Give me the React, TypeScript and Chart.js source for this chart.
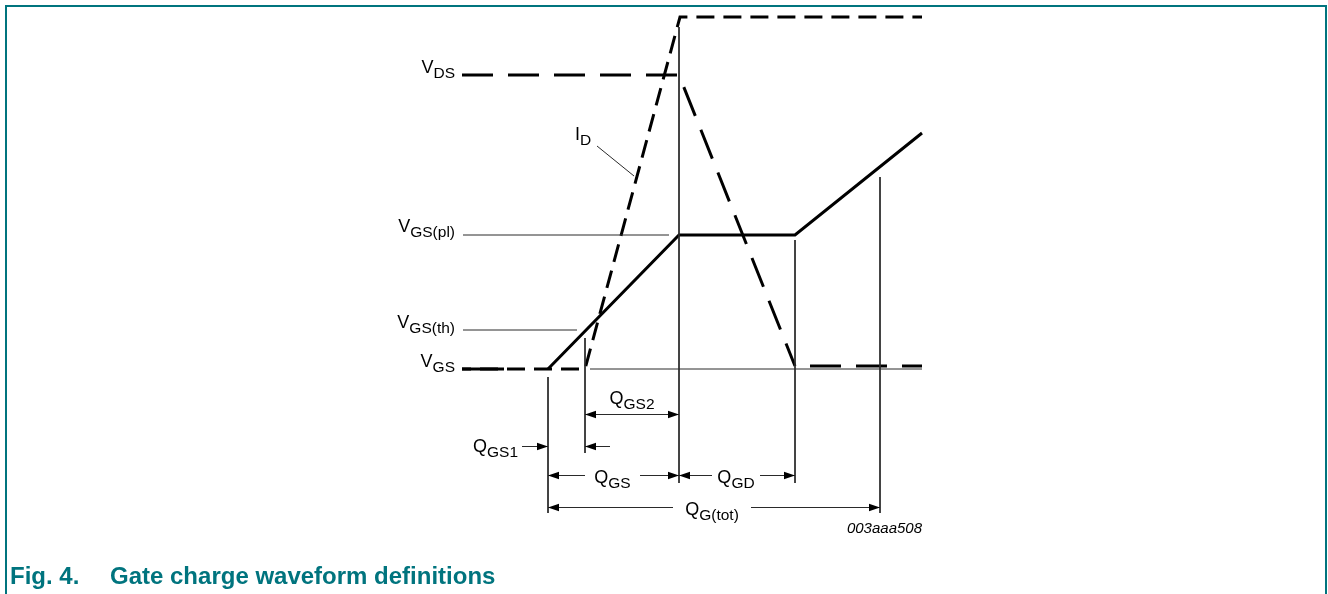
import { useEffect, useRef } from 'react';
import { Chart, registerables } from 'chart.js';

Chart.register(...registerables);

// ---- Data (charge on x in arbitrary charge units, signal level on y in arbitrary units) ----
// Gate-source voltage waveform (null = pen lifted)
const vgsCharge = [-8.6, -4.4, -2.0, 0, 13.1, 24.7, 37.4];
const vgsLevel: (number | null)[] = [0, 0, null, 0, 13.4, 13.4, 23.6];

// Drain current waveform
const idCharge = [-8.6, 3.7, 13.2, 37.4];
const idLevel = [0, 0, 35.2, 35.2];

// Drain-source voltage waveform
const vdsCharge = [-8.6, 13.1, 24.7, 37.4];
const vdsLevel = [29.4, 29.4, 0.3, 0.3];

// Thin guide lines: [charge1, level1, charge2, level2]
const guideLines = [
  [-8.5, 13.4, 12.1, 13.4], // V_GS(pl) reference
  [-8.5, 3.9, 2.9, 3.9], // V_GS(th) reference
  [4.2, 0, 37.4, 0], // baseline
  [13.1, 34.2, 13.1, -11.4], // end of Q_GS
  [0, -0.8, 0, -14.4], // start of Q_GS
  [3.7, 3.1, 3.7, -8.4], // threshold point
  [24.7, 12.9, 24.7, -11.4], // end of Q_GD
  [33.2, 19.2, 33.2, -14.4], // Q_G(tot)
  [4.9, 22.3, 8.6, 19.3], // I_D leader
];

// Dimension arrows: [fromCharge, toCharge, level, headAtFrom, headAtTo, gapFrom, gapTo]
const dimensionArrows: (number | null)[][] = [
  [3.7, 13.1, -4.5, 1, 1, null, null], // Q_GS2
  [-2.6, 0, -7.7, 0, 1, null, null], // Q_GS1 (right pointing)
  [6.2, 3.7, -7.7, 0, 1, null, null], // Q_GS1 (left pointing)
  [0, 13.1, -10.6, 1, 1, 3.7, 9.2], // Q_GS
  [13.1, 24.7, -10.6, 1, 1, 16.4, 21.2], // Q_GD
  [0, 33.2, -13.8, 1, 1, 12.5, 20.3], // Q_G(tot)
];

// Labels (main text + subscript)
const labelMain = ['V', 'V', 'V', 'V', 'I', 'Q', 'Q', 'Q', 'Q', 'Q'];
const labelSub = ['DS', 'GS(pl)', 'GS(th)', 'GS', 'D', 'GS2', 'GS1', 'GS', 'GD', 'G(tot)'];
const labelCharge = [-9.3, -9.3, -9.3, -9.3, 2.7, 8.4, -3.0, 6.45, 18.8, 16.4];
const labelLevel = [29.6, 13.7, 4.1, 0.2, 22.9, -3.5, -8.3, -11.4, -11.4, -14.6];
const labelAlign = ['right', 'right', 'right', 'right', 'left', 'center', 'right', 'center', 'center', 'center'];

const figureCode = '003aaa508';
const figureCodeCharge = 37.4;
const figureCodeLevel = -16.4;

const captionNumber = 'Fig. 4.';
const captionTitle = 'Gate charge waveform definitions';

// ---- Styling ----
const INK = '#000000';
const THIN = '#2a2a2a';
const TEAL = '#00747e';
const FONT_FAMILY = "'Liberation Sans', Arial, Helvetica, sans-serif";
const MAIN_FONT = `18px ${FONT_FAMILY}`;
const SUB_FONT = `15.5px ${FONT_FAMILY}`;
const SUB_DROP = 5;

const toPoints = (xs: number[], ys: (number | null)[]) => xs.map((q, i) => ({ x: q, y: ys[i] }));

const annotationPlugin = {
  id: 'gateChargeAnnotations',
  afterDatasetsDraw(chart: any) {
    const { ctx } = chart;
    const xs = chart.scales.x;
    const ys = chart.scales.y;
    ctx.save();

    // dimension arrows
    ctx.strokeStyle = THIN;
    ctx.fillStyle = INK;
    ctx.lineWidth = 1;
    const head = (tip: number, other: number, py: number) => {
      const dir = Math.sign(tip - other) || 1;
      ctx.beginPath();
      ctx.moveTo(tip, py);
      ctx.lineTo(tip - dir * 11, py - 3.8);
      ctx.lineTo(tip - dir * 11, py + 3.8);
      ctx.closePath();
      ctx.fill();
    };
    dimensionArrows.forEach(([a, b, lv, hs, he, g1, g2]) => {
      const xa = xs.getPixelForValue(a);
      const xb = xs.getPixelForValue(b);
      const py = Math.round(ys.getPixelForValue(lv)) + 0.5;
      ctx.beginPath();
      if (g1 != null && g2 != null) {
        ctx.moveTo(xa, py);
        ctx.lineTo(xs.getPixelForValue(g1), py);
        ctx.moveTo(xs.getPixelForValue(g2), py);
        ctx.lineTo(xb, py);
      } else {
        ctx.moveTo(xa, py);
        ctx.lineTo(xb, py);
      }
      ctx.stroke();
      if (hs) head(xa, xb, py);
      if (he) head(xb, xa, py);
    });

    // labels with subscripts
    ctx.fillStyle = INK;
    ctx.textBaseline = 'alphabetic';
    ctx.textAlign = 'left';
    labelMain.forEach((m, i) => {
      const sub = labelSub[i];
      ctx.font = MAIN_FONT;
      const wm = ctx.measureText(m).width;
      ctx.font = SUB_FONT;
      const ws = ctx.measureText(sub).width;
      const total = wm + ws;
      let px = xs.getPixelForValue(labelCharge[i]);
      if (labelAlign[i] === 'right') px -= total;
      else if (labelAlign[i] === 'center') px -= total / 2;
      const py = ys.getPixelForValue(labelLevel[i]);
      ctx.font = MAIN_FONT;
      ctx.fillText(m, px, py);
      ctx.font = SUB_FONT;
      ctx.fillText(sub, px + wm, py + SUB_DROP);
    });

    // figure code
    ctx.font = `italic 15px ${FONT_FAMILY}`;
    ctx.textAlign = 'right';
    ctx.fillText(figureCode, xs.getPixelForValue(figureCodeCharge), ys.getPixelForValue(figureCodeLevel));

    ctx.restore();
  },
};

export default function App() {
  const canvasRef = useRef<HTMLCanvasElement>(null);

  useEffect(() => {
    if (!canvasRef.current) return;
    const guideSets = guideLines.map(([q1, l1, q2, l2]) => ({
      data: toPoints([q1, q2], [l1, l2]),
      borderColor: THIN,
      borderWidth: 1,
      pointRadius: 0,
      fill: false,
    }));
    const vdsPoints = toPoints(vdsCharge, vdsLevel);
    const chart = new Chart(canvasRef.current, {
      type: 'line',
      data: {
        datasets: [
          ...guideSets,
          {
            label: 'VGS',
            data: toPoints(vgsCharge, vgsLevel),
            borderColor: INK,
            borderWidth: 3,
            pointRadius: 0,
            spanGaps: false,
            fill: false,
            borderJoinStyle: 'miter',
          },
          {
            label: 'ID',
            data: toPoints(idCharge, idLevel),
            borderColor: INK,
            borderWidth: 3,
            borderDash: [18, 9],
            borderDashOffset: 9,
            pointRadius: 0,
            fill: false,
            borderJoinStyle: 'miter',
          },
          {
            label: 'VDS',
            data: vdsPoints.slice(0, 3),
            borderColor: INK,
            borderWidth: 3,
            borderDash: [31, 15],
            pointRadius: 0,
            fill: false,
            borderJoinStyle: 'miter',
          },
          {
            label: 'VDS (on)',
            data: vdsPoints.slice(2),
            borderColor: INK,
            borderWidth: 3,
            borderDash: [31, 15],
            borderDashOffset: 31,
            pointRadius: 0,
            fill: false,
          },
        ] as any,
      },
      options: {
        responsive: false,
        maintainAspectRatio: false,
        animation: false,
        events: [],
        layout: { padding: 0 },
        plugins: {
          legend: { display: false },
          tooltip: { enabled: false },
          title: { display: false },
        },
        elements: { line: { tension: 0 }, point: { radius: 0 } },
        scales: {
          x: { type: 'linear', min: -54.8, max: 78.0, display: false },
          y: { type: 'linear', min: -22.5, max: 36.9, display: false },
        },
      },
      plugins: [annotationPlugin],
    });
    return () => chart.destroy();
  }, []);

  return (
    <div
      style={{
        position: 'absolute',
        left: 0,
        top: 0,
        width: 1328,
        height: 594,
        background: '#ffffff',
        overflow: 'hidden',
      }}
    >
      <div
        style={{
          position: 'absolute',
          left: 5,
          top: 5,
          width: 1322,
          height: 600,
          boxSizing: 'border-box',
          borderTop: `2px solid ${TEAL}`,
          borderLeft: `2px solid ${TEAL}`,
          borderRight: `2px solid ${TEAL}`,
        }}
      />
      <canvas
        ref={canvasRef}
        width={1328}
        height={594}
        style={{ position: 'absolute', left: 0, top: 0, width: 1328, height: 594, display: 'block' }}
      />
      <div
        style={{
          position: 'absolute',
          left: 10,
          top: 564,
          font: `bold 24px ${FONT_FAMILY}`,
          lineHeight: '24px',
          color: TEAL,
          whiteSpace: 'nowrap',
        }}
      >
        <span style={{ display: 'inline-block', width: 100 }}>{captionNumber}</span>
        <span>{captionTitle}</span>
      </div>
    </div>
  );
}
